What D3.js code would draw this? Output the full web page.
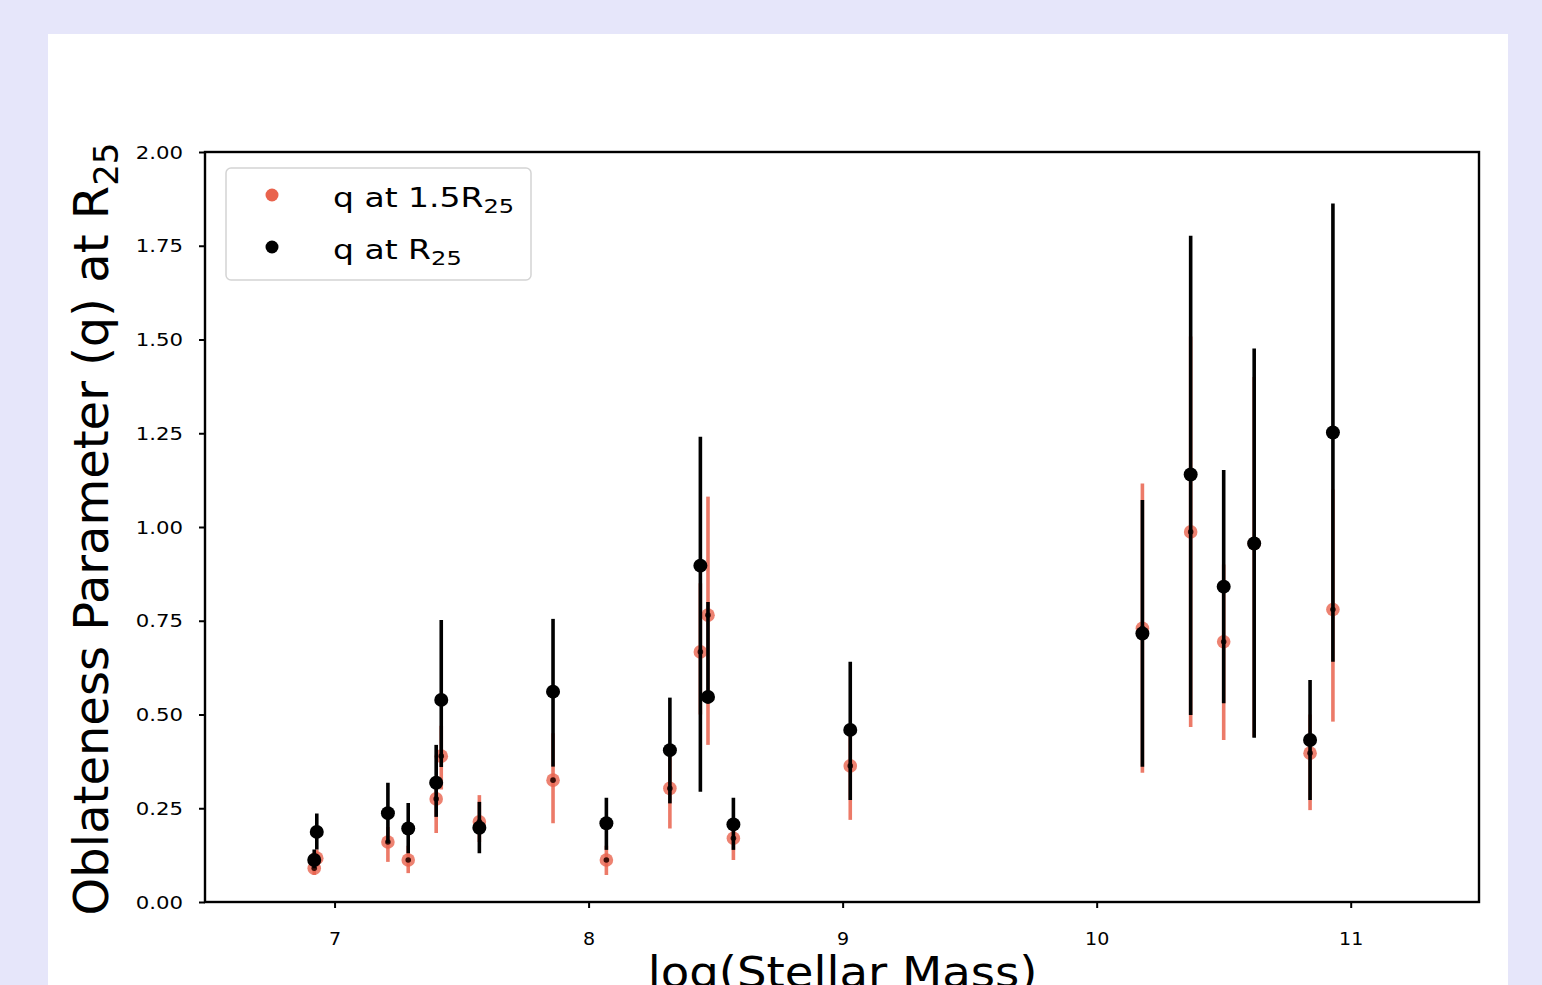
<!DOCTYPE html>
<html>
<head>
<meta charset="utf-8">
<script src="https://cdn.jsdelivr.net/npm/d3@7"></script>
<style>
  html, body { margin: 0; padding: 0; background: #e6e6fa; overflow: hidden; }
  svg { display: block; font-family: "DejaVu Sans", sans-serif; }
</style>
</head>
<body>
<div id="chart"></div>
<script>
// ==== Data ====
const mass = [6.92, 6.93, 7.21, 7.29, 7.40, 7.42, 7.57, 7.86, 8.07, 8.32, 8.44, 8.47, 8.57, 9.03, 10.18, 10.37, 10.50, 10.62, 10.84, 10.93];

// q at R25 (black)
const qR25   = [0.112, 0.187, 0.237, 0.196, 0.318, 0.539, 0.198, 0.561, 0.210, 0.405, 0.897, 0.547, 0.207, 0.459, 0.716, 1.140, 0.841, 0.956, 0.432, 1.252];
const qR25Lo = [0.090, 0.140, 0.157, 0.130, 0.227, 0.360, 0.130, 0.361, 0.139, 0.263, 0.294, 0.530, 0.139, 0.272, 0.361, 0.499, 0.530, 0.438, 0.272, 0.641];
const qR25Hi = [0.140, 0.236, 0.318, 0.264, 0.419, 0.752, 0.267, 0.755, 0.278, 0.545, 1.241, 0.800, 0.278, 0.641, 1.072, 1.777, 1.152, 1.476, 0.592, 1.863];

// q at 1.5 R25 (orange)
const q15   = [0.090, 0.117, 0.160, 0.112, 0.275, 0.389, 0.214, 0.325, 0.112, 0.303, 0.667, 0.765, 0.170, 0.363, 0.730, 0.987, 0.694, 0.956, 0.397, 0.780];
const q15Lo = [0.072, 0.095, 0.107, 0.077, 0.184, 0.300, 0.160, 0.210, 0.072, 0.196, 0.500, 0.419, 0.112, 0.219, 0.345, 0.467, 0.432, 0.440, 0.245, 0.481];
const q15Hi = [0.105, 0.140, 0.200, 0.150, 0.320, 0.470, 0.285, 0.450, 0.150, 0.400, 0.850, 1.081, 0.220, 0.450, 1.116, 1.508, 0.900, 1.400, 0.500, 1.100];

const xTicks = [7, 8, 9, 10, 11];
const yTicks = [0, 0.25, 0.5, 0.75, 1, 1.25, 1.5, 1.75, 2];

const orange = "#e9634d";

// ==== Initialization ====
const W = 1542, H = 985;
const plot = { left: 205, right: 1479, top: 152, bottom: 902 };

const svg = d3.select("#chart")
    .append("svg")
    .attr("width", W)
    .attr("height", H);

svg.append("rect")
    .attr("x", 0).attr("y", 0)
    .attr("width", W).attr("height", H)
    .attr("fill", "#e6e6fa");

svg.append("rect")
    .attr("x", 48).attr("y", 34)
    .attr("width", 1460).attr("height", H)
    .attr("fill", "#ffffff");

// === Scales ===
const xScale = d3.scaleLinear()
    .domain([6.49, 11.505])
    .range([plot.left, plot.right]);

const yScale = d3.scaleLinear()
    .domain([0, 2])
    .range([plot.bottom, plot.top]);

// === Marks ===
const rows = mass.map((m, i) => ({
    m,
    q: qR25[i], lo: qR25Lo[i], hi: qR25Hi[i],
    q2: q15[i], lo2: q15Lo[i], hi2: q15Hi[i]
}));

const marks = svg.append("g");

// orange error bars + points first
marks.selectAll(".err15")
    .data(rows)
    .join("line")
    .attr("class", "err15")
    .attr("x1", d => xScale(d.m)).attr("x2", d => xScale(d.m))
    .attr("y1", d => yScale(d.lo2)).attr("y2", d => yScale(d.hi2))
    .attr("stroke", orange)
    .attr("stroke-opacity", 0.85)
    .attr("stroke-width", 3.6);

marks.selectAll(".pt15")
    .data(rows)
    .join("circle")
    .attr("class", "pt15")
    .attr("cx", d => xScale(d.m))
    .attr("cy", d => yScale(d.q2))
    .attr("r", 6.8)
    .attr("fill", orange)
    .attr("fill-opacity", 0.8);

marks.selectAll(".pt15c")
    .data(rows)
    .join("circle")
    .attr("class", "pt15c")
    .attr("cx", d => xScale(d.m))
    .attr("cy", d => yScale(d.q2))
    .attr("r", 2.8)
    .attr("fill", "#3a0e08");

// black error bars + points
marks.selectAll(".err25")
    .data(rows)
    .join("line")
    .attr("class", "err25")
    .attr("x1", d => xScale(d.m)).attr("x2", d => xScale(d.m))
    .attr("y1", d => yScale(d.lo)).attr("y2", d => yScale(d.hi))
    .attr("stroke", "#000")
    .attr("stroke-width", 3.6);

marks.selectAll(".pt25")
    .data(rows)
    .join("circle")
    .attr("class", "pt25")
    .attr("cx", d => xScale(d.m))
    .attr("cy", d => yScale(d.q))
    .attr("r", 7)
    .attr("fill", "#000");

// === Axes ===
const xAxis = d3.axisBottom(xScale)
    .tickValues(xTicks)
    .tickFormat(d3.format("d"))
    .tickSize(6);

const yAxis = d3.axisLeft(yScale)
    .tickValues(yTicks)
    .tickFormat(d3.format(".2f"))
    .tickSize(6);

const gx = svg.append("g")
    .attr("transform", `translate(0,${plot.bottom})`)
    .call(xAxis);

const gy = svg.append("g")
    .attr("transform", `translate(${plot.left},0)`)
    .call(yAxis);

[gx, gy].forEach(g => {
    g.select(".domain").remove();
    g.selectAll(".tick line").attr("stroke", "#000").attr("stroke-width", 2);
    g.selectAll(".tick text")
        .attr("fill", "#000")
        .attr("font-family", "DejaVu Sans")
        .attr("font-size", 17);
});

gx.selectAll(".tick text")
    .attr("y", null)
    .attr("dy", null)
    .attr("transform", "translate(0,43) scale(1.12,1)");

gy.selectAll(".tick text")
    .attr("x", null)
    .attr("dy", "0.36em")
    .attr("transform", "translate(-22,0) scale(1.25,1)");

// frame
svg.append("rect")
    .attr("x", plot.left).attr("y", plot.top)
    .attr("width", plot.right - plot.left)
    .attr("height", plot.bottom - plot.top)
    .attr("fill", "none")
    .attr("stroke", "#000")
    .attr("stroke-width", 2.4);

// === Axis labels ===
const yLab = svg.append("text")
    .attr("transform", `translate(108,${(plot.top + plot.bottom) / 2 + 2}) rotate(-90)`)
    .attr("text-anchor", "middle")
    .attr("font-size", 48)
    .attr("fill", "#000");
yLab.append("tspan").text("Oblateness Parameter (q) at R");
yLab.append("tspan").attr("font-size", 34).attr("dy", 10).text("25");

svg.append("text")
    .attr("transform", `translate(${xScale(9)},987) scale(1.11,1)`)
    .attr("text-anchor", "middle")
    .attr("font-size", 42)
    .attr("fill", "#000")
    .text("log(Stellar Mass)");

// === Legend ===
const legend = svg.append("g");

legend.append("rect")
    .attr("x", 226).attr("y", 168)
    .attr("width", 305).attr("height", 112)
    .attr("rx", 5)
    .attr("fill", "#fff")
    .attr("stroke", "#d4d4d4")
    .attr("stroke-width", 1.5);

const legendItems = [
    { label: "q at 1.5R", color: orange, y: 195 },
    { label: "q at R", color: "#000", y: 247 }
];

legendItems.forEach(it => {
    legend.append("circle")
        .attr("cx", 272).attr("cy", it.y)
        .attr("r", 6.5)
        .attr("fill", it.color);
    const t = legend.append("text")
        .attr("transform", `translate(333,${it.y + 12}) scale(1.27,1)`)
        .attr("font-size", 26)
        .attr("fill", "#000");
    t.append("tspan").text(it.label);
    t.append("tspan").attr("font-size", 19).attr("dy", 6).text("25");
});
</script>
</body>
</html>
